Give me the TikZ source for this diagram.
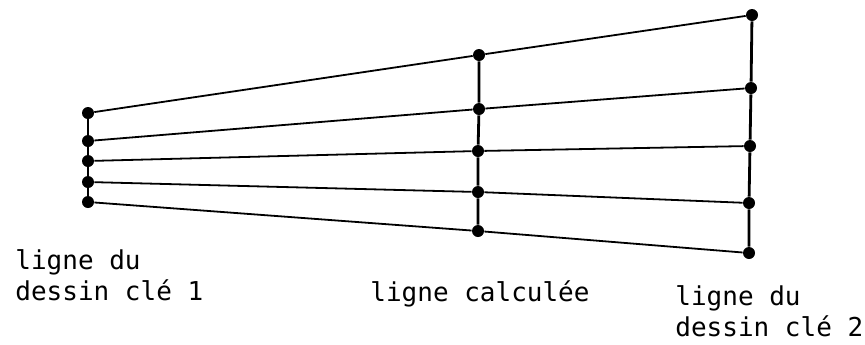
\documentclass[tikz,border=0pt]{standalone}
\usepackage{fontspec}
\setmonofont{DejaVu Sans Mono}
\begin{document}
\begin{tikzpicture}[x=0.5pt,y=-0.5pt,
        pnt/.style={circle,fill=black,inner sep=0pt,minimum size=6pt},
        rung/.style={line width=1.4pt},
        rail/.style={line width=0.9pt},
        lbl/.style={anchor=north west,inner sep=0pt,align=left,
            font=\ttfamily\fontsize{13}{15.5}\selectfont}]
            \useasboundingbox (0,0) rectangle (865,344);
            % ligne du dessin cle 1
            \node[pnt] (l1) at (88,113) {};
            \node[pnt] (l2) at (88,141) {};
            \node[pnt] (l3) at (88,161) {};
            \node[pnt] (l4) at (88,182) {};
            \node[pnt] (l5) at (88,202) {};
            % ligne calculee
            \node[pnt] (m1) at (479,55) {};
            \node[pnt] (m2) at (479,109) {};
            \node[pnt] (m3) at (478,151) {};
            \node[pnt] (m4) at (478,192) {};
            \node[pnt] (m5) at (478,231) {};
            % ligne du dessin cle 2
            \node[pnt] (r1) at (752,15) {};
            \node[pnt] (r2) at (751,88) {};
            \node[pnt] (r3) at (750,146) {};
            \node[pnt] (r4) at (749,203) {};
            \node[pnt] (r5) at (749,253) {};
            \draw[rung] (l1) -- (l2) -- (l3) -- (l4) -- (l5);
            \draw[rung] (m1) -- (m2) -- (m3) -- (m4) -- (m5);
            \draw[rung] (r1) -- (r2) -- (r3) -- (r4) -- (r5);
            \draw[rail] (l1) -- (m1) -- (r1);
            \draw[rail] (l2) -- (m2) -- (r2);
            \draw[rail] (l3) -- (m3) -- (r3);
            \draw[rail] (l4) -- (m4) -- (r4);
            \draw[rail] (l5) -- (m5) -- (r5);
            \node[lbl] (t1) at (15,249) {ligne du\\dessin clé 1};
            \node[lbl] (t2) at (370,280) {ligne calculée};
            \node[lbl] (t3) at (675,285) {ligne du\\dessin clé 2};
        \end{tikzpicture}
\end{document}
